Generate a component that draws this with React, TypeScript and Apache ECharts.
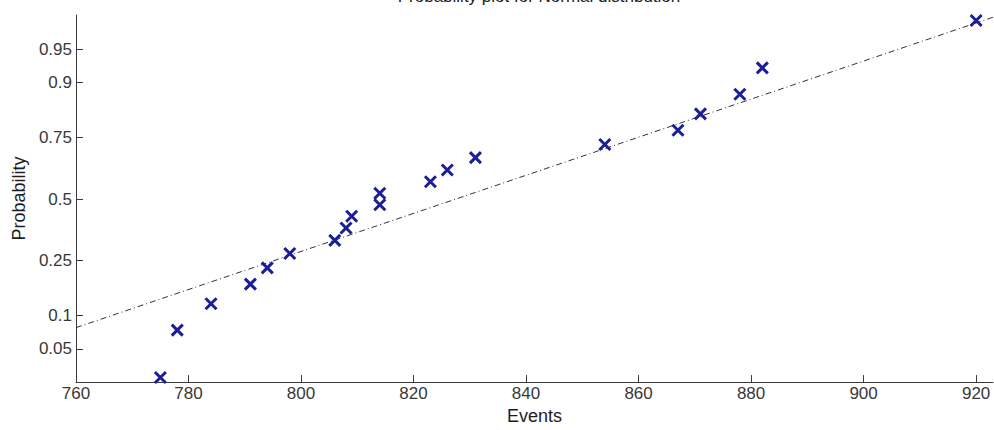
import React, { useEffect, useRef } from "react";
import * as echarts from "echarts";

// Observed data (events) and their plotting-position probabilities
const events = [775, 778, 784, 791, 794, 798, 806, 808, 809, 814, 814, 823, 826, 831, 854, 867, 871, 878, 882, 920];
const probabilities = [0.025, 0.075, 0.125, 0.175, 0.225, 0.275, 0.325, 0.375, 0.425, 0.475, 0.525, 0.575, 0.625, 0.675, 0.725, 0.775, 0.825, 0.875, 0.925, 0.975];

// Reference (fit) line end points
const fitEvents = [760, 923];
const fitProbs = [0.079, 0.977];

// Tick labels
const probTicks = [0.05, 0.1, 0.25, 0.5, 0.75, 0.9, 0.95];
const probTickLabels = ["0.05", "0.1", "0.25", "0.5", "0.75", "0.9", "0.95"];
const eventTicks = [760, 780, 800, 820, 840, 860, 880, 900, 920];

// Normal probability scale: inverse standard normal CDF (Acklam)
function probit(p: number): number {
  const a = [-39.69683028665376, 220.9460984245205, -275.9285104469687, 138.357751867269, -30.66479806614716, 2.506628277459239];
  const b = [-54.47609879822406, 161.5858368580409, -155.6989798598866, 66.80131188771972, -13.28068155288572];
  const c = [-0.007784894002430293, -0.3223964580411365, -2.400758277161838, -2.549732539343734, 4.374664141464968, 2.938163982698783];
  const d = [0.007784695709041462, 0.3224671290700398, 2.445134137142996, 3.754408661907416];
  const pl = 0.02425;
  let q: number, r: number;
  if (p < pl) {
    q = Math.sqrt(-2 * Math.log(p));
    return (((((c[0] * q + c[1]) * q + c[2]) * q + c[3]) * q + c[4]) * q + c[5]) / ((((d[0] * q + d[1]) * q + d[2]) * q + d[3]) * q + 1);
  } else if (p <= 1 - pl) {
    q = p - 0.5;
    r = q * q;
    return ((((((a[0] * r + a[1]) * r + a[2]) * r + a[3]) * r + a[4]) * r + a[5]) * q) / (((((b[0] * r + b[1]) * r + b[2]) * r + b[3]) * r + b[4]) * r + 1);
  } else {
    q = Math.sqrt(-2 * Math.log(1 - p));
    return -(((((c[0] * q + c[1]) * q + c[2]) * q + c[3]) * q + c[4]) * q + c[5]) / ((((d[0] * q + d[1]) * q + d[2]) * q + d[3]) * q + 1);
  }
}

const FONT = "'Liberation Sans', Arial, Helvetica, sans-serif";

export default function App() {
  const ref = useRef<HTMLDivElement>(null);
  useEffect(() => {
    if (!ref.current) return;
    const chart = echarts.init(ref.current, undefined, { renderer: "svg" });
    const zTicks = probTicks.map(probit);
    const option = {
      animation: false,
      backgroundColor: "#ffffff",
      textStyle: { fontFamily: FONT },
      title: {
        text: "Probability plot for Normal distribution",
        left: 534,
        textAlign: "center",
        top: -17,
        textStyle: { fontSize: 17, fontWeight: "normal", color: "#222", fontFamily: FONT },
      },
      grid: { left: 76, right: 1, top: 15, bottom: 44, containLabel: false },
      xAxis: {
        type: "value",
        min: 760,
        max: 923,
        name: "Events",
        nameLocation: "middle",
        nameGap: 20,
        nameTextStyle: { fontSize: 18, color: "#1e1e1e", fontFamily: FONT },
        axisLine: { show: true, onZero: false, lineStyle: { color: "#3a3a3a", width: 1 } },
        axisTick: { show: true, inside: true, length: 7, lineStyle: { color: "#3a3a3a" }, customValues: eventTicks },
        axisLabel: { color: "#383838", fontSize: 17, margin: 3, fontFamily: FONT, customValues: eventTicks },
        splitLine: { show: false },
      },
      yAxis: {
        type: "value",
        min: -2.01,
        max: 2.02,
        name: "Probability",
        nameLocation: "middle",
        nameGap: 47,
        nameTextStyle: { fontSize: 18, color: "#1e1e1e", fontFamily: FONT },
        axisLine: { show: true, onZero: false, lineStyle: { color: "#3a3a3a", width: 1 } },
        axisTick: { show: true, inside: true, length: 7, lineStyle: { color: "#3a3a3a" }, customValues: zTicks },
        axisLabel: {
          color: "#383838",
          fontSize: 17,
          margin: 4,
          fontFamily: FONT,
          customValues: zTicks,
          formatter: (v: number) => {
            let best = 0;
            for (let i = 1; i < zTicks.length; i++) {
              if (Math.abs(zTicks[i] - v) < Math.abs(zTicks[best] - v)) best = i;
            }
            return probTickLabels[best];
          },
        },
        splitLine: { show: false },
      },
      series: [
        {
          type: "line",
          data: fitEvents.map((e, i) => [e, probit(fitProbs[i])]),
          showSymbol: false,
          symbol: "none",
          lineStyle: { color: "#333", width: 1, type: [6, 3, 1, 3] },
          z: 1,
        },
        {
          type: "scatter",
          data: events.map((e, i) => [e, probit(probabilities[i])]),
          symbol: "path://M0,0L10,10M10,0L0,10",
          symbolSize: 11,
          itemStyle: { color: "#1b1f96", borderColor: "#1b1f96", borderWidth: 3, opacity: 1 },
          z: 2,
        },
      ],
    };
    chart.setOption(option as any);
    return () => chart.dispose();
  }, []);
  return <div ref={ref} style={{ position: "fixed", left: 0, top: 0, width: 994, height: 430 }} />;
}
